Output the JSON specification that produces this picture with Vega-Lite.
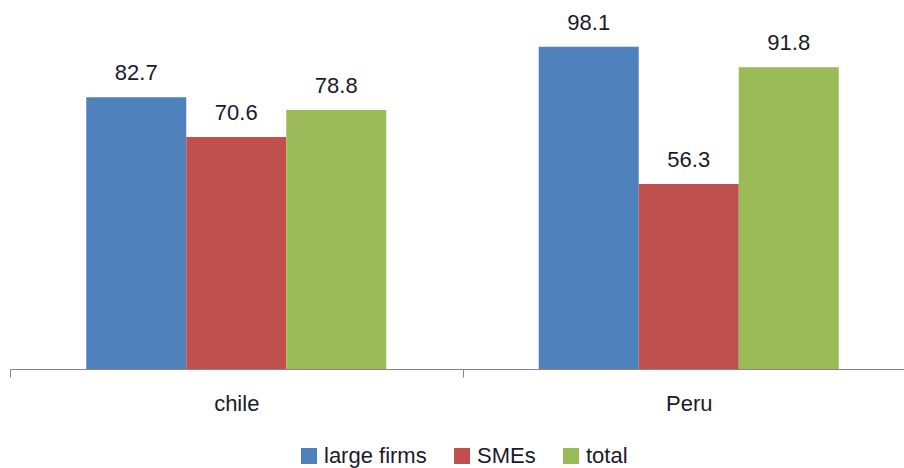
{
  "$schema": "https://vega.github.io/schema/vega-lite/v6.json",
  "autosize": "none",
  "width": 905,
  "height": 369,
  "padding": {"left": 10, "top": 0, "right": 0, "bottom": 99},
  "background": "white",
  "data": {
    "values": [
      {"country": "chile", "series": "large firms", "value": 82.7},
      {"country": "chile", "series": "SMEs", "value": 70.6},
      {"country": "chile", "series": "total", "value": 78.8},
      {"country": "Peru", "series": "large firms", "value": 98.1},
      {"country": "Peru", "series": "SMEs", "value": 56.3},
      {"country": "Peru", "series": "total", "value": 91.8}
    ]
  },
  "config": {
    "view": {"stroke": null},
    "font": "Liberation Sans"
  },
  "encoding": {
    "x": {
      "field": "country", "type": "nominal", "sort": ["chile", "Peru"],
      "scale": {"paddingInner": 0, "paddingOuter": 0},
      "axis": {
        "title": null, "labelAngle": 0, "tickBand": "extent",
        "domainColor": "#868686", "tickColor": "#868686", "tickSize": 8,
        "labelFontSize": 22, "labelColor": "#1a1a2a", "labelBaseline": "alphabetic",
        "labelPadding": 33, "labelFont": "Liberation Sans"
      }
    },
    "xOffset": {
      "field": "series", "type": "nominal", "sort": ["large firms", "SMEs", "total"],
      "scale": {"paddingInner": 0, "paddingOuter": 0.7625}
    },
    "y": {
      "field": "value", "type": "quantitative",
      "scale": {"domain": [0, 112.3], "nice": false, "zero": true},
      "axis": null
    }
  },
  "layer": [
    {
      "mark": {"type": "bar"},
      "encoding": {
        "color": {
          "field": "series", "type": "nominal", "sort": ["large firms", "SMEs", "total"],
          "scale": {"domain": ["large firms", "SMEs", "total"], "range": ["#4F81BD", "#C0504D", "#9BBB59"]},
          "legend": {
            "title": null, "orient": "none", "direction": "horizontal",
            "legendX": 288, "legendY": 445, "padding": 0,
            "symbolType": "square", "symbolSize": 256, "symbolStrokeWidth": 0,
            "labelFontSize": 22, "labelColor": "#1a1a2a", "labelOffset": 4,
            "columnPadding": 24, "labelFont": "Liberation Sans"
          }
        }
      }
    },
    {
      "mark": {"type": "text", "baseline": "alphabetic", "dy": -17, "fontSize": 22, "color": "#1a1a2a"},
      "encoding": {
        "text": {"field": "value", "type": "quantitative", "format": ".1f"}
      }
    }
  ]
}
